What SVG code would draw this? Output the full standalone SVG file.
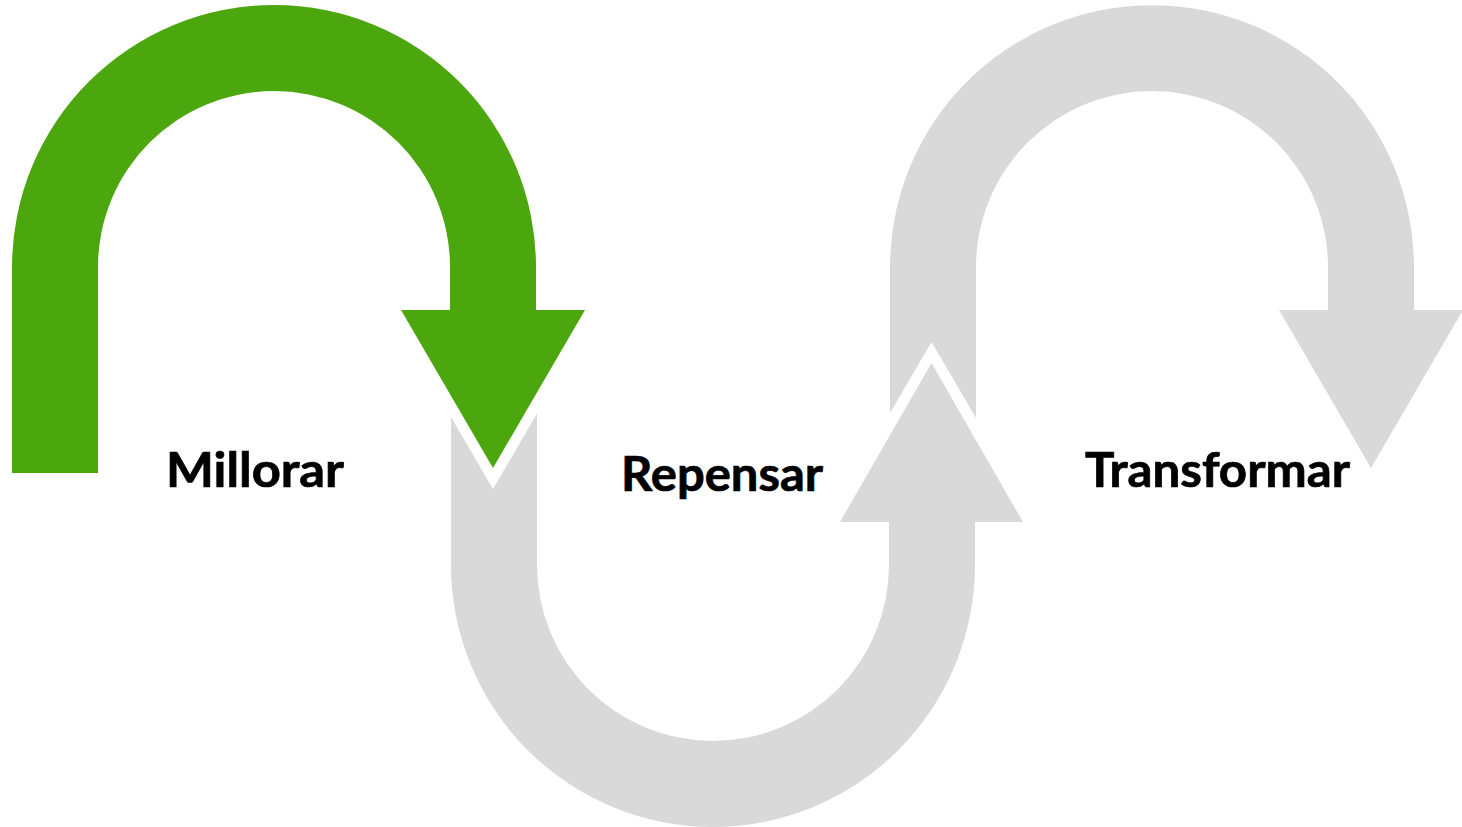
<svg xmlns="http://www.w3.org/2000/svg" width="1462" height="827" viewBox="0 0 1462 827">
  <style>
    .green { fill: #4CA60E; }
    .gray { fill: #D9D9D9; }
    .label { font-family: Lato, "Liberation Sans", sans-serif; font-weight: 700; font-size: 47px; fill: #000000; stroke: #000000; stroke-width: 0.7px; }
  </style>
  <rect width="1462" height="827" fill="#FFFFFF"/>
  <g id="step-repensar">
    <path class="gray" d="M451,417 L493,489 L537,413.5 L537,565 A176,176 0 0 0 889,565 L889,522 L840,522 L931.5,363 L1023,522 L975,522 L975,565 A262,262 0 0 1 451,565 Z"/>
    <text class="label" x="621" y="491" textLength="202" lengthAdjust="spacingAndGlyphs">Repensar</text>
  </g>
  <g id="step-transformar">
    <path class="gray" d="M890,413 L890,267 A262,262 0 0 1 1414,267 L1414,310 L1463,310 L1371,468 L1279,310 L1328,310 L1328,267 A176,176 0 0 0 976,267 L976,418 L931.5,342 Z"/>
    <text class="label" x="1085" y="487" textLength="265" lengthAdjust="spacingAndGlyphs">Transformar</text>
  </g>
  <g id="step-millorar">
    <path class="green" d="M12,473 L12,267 A262,262 0 0 1 536,267 L536,310 L585,310 L493,468 L401,310 L450,310 L450,267 A176,176 0 0 0 98,267 L98,473 Z"/>
    <text class="label" x="166" y="487" textLength="178" lengthAdjust="spacingAndGlyphs">Millorar</text>
  </g>
</svg>
